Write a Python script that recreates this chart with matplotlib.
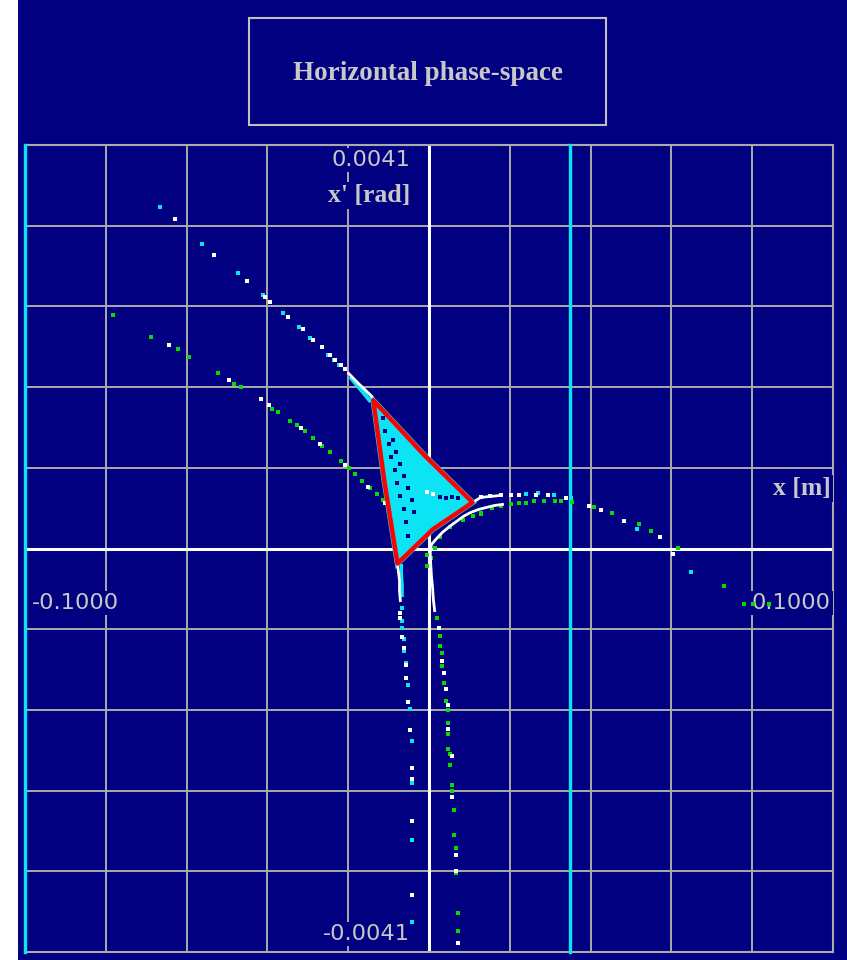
import matplotlib.pyplot as plt
import matplotlib.patches as patches
import numpy as np

# data, x in mm and x' in mrad (converted to m / rad below)
# outer separatrix points
white_x = [-62.8, -53.2, -45.0, -40.5, -39.3, -34.8, -31.1, -28.6, -26.4, -24.4, -23.2, -21.9, -20.9,
           -64.3, -49.4, -41.5, -39.5, -31.8, -26.9, -20.7, -15.0, -10.8,
           12.8, 15.2, 17.7, 20.2, 22.2, 26.4, 29.4, 33.8,
           39.5, 42.5, 48.2, 57.1, 60.3,
           -7.1, -7.1, -6.6, -6.3, -5.6, -5.6, -5.3, -4.8, -4.3, -4.1, -4.1, -4.1,
           2.4, 3.3, 3.6, 4.1, 4.6, 4.8, 5.6, 5.8, 6.8, 6.8, 7.1,
           -0.4, 1.1]
white_y = [3.347, 2.981, 2.716, 2.554, 2.503, 2.350, 2.228, 2.116, 2.045, 1.964, 1.913, 1.862, 1.821,
           2.065, 1.709, 1.516, 1.455, 1.221, 1.058, 0.844, 0.621, 0.458,
           0.519, 0.529, 0.539, 0.539, 0.539, 0.539, 0.539, 0.509,
           0.427, 0.387, 0.275, 0.112, -0.051,
           -0.651, -0.702, -0.895, -1.007, -1.180, -1.312, -1.557, -1.842, -2.228, -2.340, -2.767, -3.520,
           -0.804, -1.139, -1.262, -1.424, -1.587, -1.831, -2.106, -2.523, -3.113, -3.276, -4.009,
           0.570, 0.549]

cyan_x = [-66.5, -56.1, -47.2, -41.0, -36.1, -32.1, -29.4, -26.6, -24.9, -23.4, -22.2,
          23.9, 27.1, 30.9, 35.1, 51.4, 64.8,
          -6.6, -6.6, -6.6, -6.3, -6.3, -5.8, -5.3, -4.8, -4.3, -4.3, -4.1, -4.3]
cyan_y = [3.469, 3.093, 2.798, 2.574, 2.391, 2.248, 2.137, 2.045, 1.964, 1.913, 1.862,
          0.549, 0.560, 0.539, 0.509, 0.203, -0.234,
          -0.600, -0.733, -0.804, -0.916, -1.038, -1.160, -1.384, -1.628, -1.953, -2.381, -2.961, -3.795]

green_x = [-78.2, -68.8, -62.1, -59.3, -52.2, -48.2, -46.5, -38.8, -37.5,
           -34.3, -32.6, -30.6, -28.6, -26.4, -24.4, -21.9, -19.9, -18.2, -16.5, -14.5, -12.8, -11.3,
           12.8, 15.7, 17.7, 20.2, 22.2, 23.9, 25.9, 28.4, 31.3, 32.6, 35.3,
           40.8, 45.2, 51.9, 54.9, 61.6, 73.0, 77.9, 80.2, 84.1,
           0.4, 1.6, 2.8, 5.3, 8.3, 10.8, 12.8,
           -0.4, -0.4, 2.1, 2.8, 2.8, 3.3, 3.3, 3.6, 4.1, 4.6, 4.6, 4.8, 4.8, 5.3, 5.3,
           5.8, 5.8, 6.3, 6.3, 6.8, 6.8, 7.1, 7.1]
green_y = [2.371, 2.147, 2.025, 1.943, 1.780, 1.669, 1.638, 1.414, 1.384,
           1.292, 1.251, 1.190, 1.119, 1.038, 0.977, 0.885, 0.814, 0.753, 0.682, 0.610, 0.549, 0.488,
           0.356, 0.407, 0.427, 0.448, 0.458, 0.458, 0.478, 0.478, 0.478, 0.478, 0.468,
           0.417, 0.356, 0.244, 0.173, 0.010, -0.376, -0.560, -0.560, -0.560,
           -0.092, 0.010, 0.112, 0.214, 0.285, 0.326, 0.346,
           -0.071, -0.173, -0.702, -0.885, -0.987, -1.058, -1.190, -1.363, -1.546, -1.638, -1.770,
           -1.882, -2.035, -2.086, -2.198, -2.401, -2.462, -2.655, -2.910, -3.042, -3.296, -3.703, -3.886]

# dense parts of the arms close to the triangle
arm_ul_x = [-19.9, -18.7, -17.5, -16.2, -15.2, -14.2]
arm_ul_y = [1.780, 1.729, 1.678, 1.628, 1.587, 1.546]
arm_ul_cyan_x = [-19.2, -18.0, -16.7, -15.7, -14.7]
arm_ul_cyan_y = [1.729, 1.668, 1.607, 1.557, 1.506]
arm_br_x = [1.4, 1.1, 0.9, 0.6, 0.4, 0.3, 0.6, 1.9, 3.3, 5.1, 6.8, 8.5, 10.3, 12.3, 14.2, 16.2, 18.2]
arm_br_y = [-0.631, -0.529, -0.407, -0.275, -0.142, -0.041, 0.041, 0.102, 0.163, 0.224, 0.275,
            0.326, 0.366, 0.397, 0.417, 0.437, 0.448]
arm_bl_x = [-7.8, -7.6, -7.3, -7.3, -7.1]
arm_bl_y = [-0.122, -0.224, -0.326, -0.427, -0.529]
arm_bl_cyan_x = [-6.8, -6.8, -6.6, -6.6]
arm_bl_cyan_y = [-0.173, -0.275, -0.376, -0.478]
arm_r_x = [10.8, 12.8, 15.2, 17.7]
arm_r_y = [0.468, 0.519, 0.529, 0.539]

# stable triangle (cyan inside, red boundary)
tri_x = [-13.8, -1.1, 10.8, 0.9, -7.8, -11.0]
tri_y = [1.506, 0.946, 0.468, 0.193, -0.153, 0.671]

# gaps inside the triangle
gap_x = [-11.5, -10.8, -10.0, -9.3, -8.5, -7.8, -7.1, -6.3, -5.8, -5.3,
         -9.0, -8.1, -7.1, -6.1, -5.1, -4.3, -3.8, 2.8, 4.3, 5.8, 7.3]
gap_y = [1.323, 1.190, 1.058, 0.926, 0.794, 0.661, 0.529, 0.397, 0.265, 0.132,
         1.099, 0.977, 0.855, 0.733, 0.610, 0.488, 0.366, 0.519, 0.509, 0.519, 0.509]

aperture_x = [-100.0, 34.8]

x_lim = 0.1
xp_lim = 0.0041

navy = '#000080'
gray = '#ababab'
label_col = '#c8c8c8'
cyan = '#0ae4f4'
green = '#00e000'

def m(v):
    return np.array(v) / 1000.0

fig = plt.figure(figsize=(8.47, 9.6), dpi=100)
fig.patch.set_facecolor(navy)
fig.patches.append(patches.Rectangle((0, 0), 18 / 847, 1, transform=fig.transFigure,
                                     facecolor='white', edgecolor='none', zorder=0))

# title box
fig.patches.append(patches.Rectangle((249 / 847, 1 - 125 / 960), 357 / 847, 107 / 960,
                                     transform=fig.transFigure, facecolor='none',
                                     edgecolor='#c0c0c0', linewidth=1.5))
fig.text(428 / 847, 1 - 73 / 960, 'Horizontal phase-space', color=label_col,
         family='Liberation Serif', weight='bold', fontsize=19.5, ha='center', va='center')

ax = fig.add_axes([25 / 847, 8 / 960, 808 / 847, 807 / 960])
ax.set_facecolor(navy)
ax.set_xlim(-x_lim, x_lim)
ax.set_ylim(-xp_lim, xp_lim)
ax.set_xticks(np.linspace(-x_lim, x_lim, 11))
ax.set_yticks(np.linspace(-xp_lim, xp_lim, 11))
ax.tick_params(length=0, labelbottom=False, labelleft=False)
ax.grid(True, color=gray, linewidth=1.4, zorder=0)
ax.set_axisbelow(True)
for s in ax.spines.values():
    s.set_color(gray)
    s.set_linewidth(1.5)

ax.axhline(0, color='white', linewidth=2.2, zorder=1)
ax.axvline(0, color='white', linewidth=2.2, zorder=1)
for a in aperture_x:
    ax.axvline(a / 1000.0, color=cyan, linewidth=2.4, zorder=3, clip_on=False)

# labels sit on a navy box that hides the grid under them
box = dict(facecolor=navy, edgecolor='none', pad=1.5)
num = dict(color=label_col, fontsize=16.2, family='DejaVu Sans', bbox=box, zorder=3)
ser = dict(color=label_col, fontsize=18.5, family='Liberation Serif', weight='bold', bbox=box, zorder=3)
ax.text(-0.0046, 0.00395, '0.0041', ha='right', va='center', **num)
ax.text(-0.0046, 0.00359, "x' [rad]", ha='right', va='center', **ser)
ax.text(-0.0046, -0.00392, '-0.0041', ha='right', va='center', **num)
ax.text(0.0995, 0.00061, 'x [m]', ha='right', va='center', **ser)
ax.text(-0.0983, -0.00055, '-0.1000', ha='left', va='center', **num)
ax.text(0.0995, -0.00055, '0.1000', ha='right', va='center', **num)

# triangle
tri = patches.Polygon(np.column_stack([m(tri_x), m(tri_y)]), closed=True, facecolor=cyan,
                      edgecolor=cyan, linewidth=4, zorder=4)
ax.add_patch(tri)
ax.scatter(m(gap_x), m(gap_y), s=7, marker='s', color=navy, linewidths=0, zorder=5)
ax.add_patch(patches.Polygon(np.column_stack([m(tri_x), m(tri_y)]), closed=True, facecolor='none',
                             edgecolor='red', linewidth=3.2, joinstyle='round', zorder=7))

# dense arms
ax.plot(m(arm_ul_cyan_x), m(arm_ul_cyan_y), color=cyan, linewidth=3, zorder=5)
ax.plot(m(arm_ul_x), m(arm_ul_y), color='white', linewidth=2, zorder=6)
ax.plot(m(arm_bl_cyan_x), m(arm_bl_cyan_y), color=cyan, linewidth=2.2, zorder=5)
ax.plot(m(arm_bl_x), m(arm_bl_y), color='white', linewidth=2, zorder=6)
ax.plot(m(arm_br_x), m(arm_br_y), color='white', linewidth=2, zorder=6)
ax.plot(m(arm_r_x), m(arm_r_y), color='white', linewidth=2, zorder=6)

# tracked particles
ax.scatter(m(green_x), m(green_y), s=5, marker='s', color=green, linewidths=0, zorder=5)
ax.scatter(m(cyan_x), m(cyan_y), s=5, marker='s', color=cyan, linewidths=0, zorder=5)
ax.scatter(m(white_x), m(white_y), s=5, marker='s', color='white', linewidths=0, zorder=6)

plt.savefig('out.png', dpi=100, facecolor=navy)
